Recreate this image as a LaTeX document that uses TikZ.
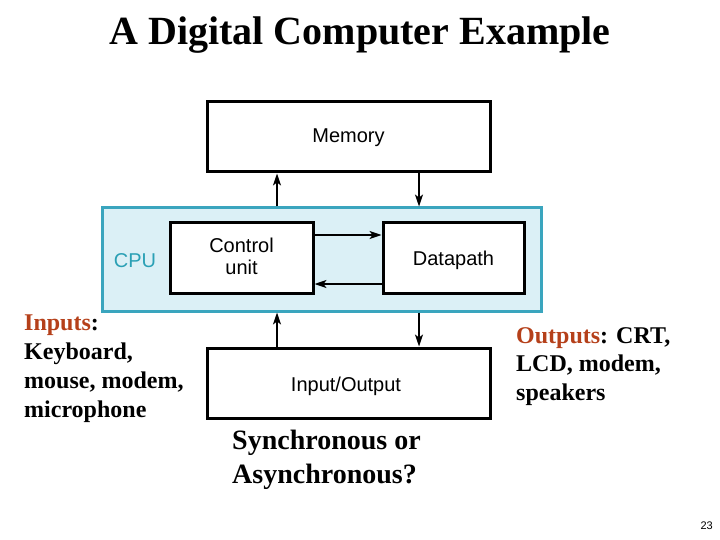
\documentclass[tikz,border=0pt]{standalone}
\usepackage{fontspec}
\setmainfont{Liberation Serif}
\setsansfont{Liberation Sans}
\usetikzlibrary{arrows.meta}
\definecolor{cpufill}{HTML}{DBF0F6}
\definecolor{cpuline}{HTML}{3AA5BE}
\definecolor{cputext}{HTML}{2AA0B5}
\definecolor{hl}{HTML}{B5401A}
\tikzset{
  blk/.style={draw=black, line width=3pt, fill=white},
  lbl/.style={font=\sffamily\fontsize{20}{22}\selectfont, anchor=base, inner sep=0pt},
  txt/.style={font=\bfseries\fontsize{24}{29}\selectfont, anchor=base west, inner sep=0pt},
  conn/.style={line width=1.3pt, -{Stealth[length=12pt,width=8pt,inset=3pt]}}
}
\begin{document}
\begin{tikzpicture}[x=1pt,y=-1pt]
\useasboundingbox (0,0) rectangle (720,540);
% title
\node[font=\bfseries\fontsize{40}{48}\selectfont, anchor=base, inner sep=0pt] (title) at (360,45) {A Digital Computer Example};
% CPU box
\draw[draw=cpuline, fill=cpufill, line width=3pt] (102.5,208) rectangle (541,311);
\coordinate (cputop1) at (277,206.5);
\coordinate (cputop2) at (419,206.5);
\coordinate (cpubot1) at (277,312.5);
\coordinate (cpubot2) at (419,312.5);
\node[lbl, text=cputext] (cpu) at (135,267) {CPU};
% memory
\draw[blk] (207,102) rectangle (490,172);
\coordinate (memb1) at (277,173.5);
\coordinate (memb2) at (419,173.5);
\node[lbl] (mem) at (348.5,143) {Memory};
% control unit
\draw[blk] (170,223) rectangle (313,293);
\node[lbl] (ctl1) at (241.5,252) {Control};
\node[lbl] (ctl2) at (241.5,274) {unit};
% datapath
\draw[blk] (383,223) rectangle (524,293);
\node[lbl] (dp) at (453.5,265) {Datapath};
% I/O
\draw[blk] (207,348) rectangle (490,418);
\coordinate (iot1) at (277,346.5);
\coordinate (iot2) at (419,346.5);
\node[lbl] (io) at (346,391) {Input/Output};
% connectors
\coordinate (c1) at (314.5,235);
\coordinate (d1) at (381.5,235);
\coordinate (c2) at (314.5,284);
\coordinate (d2) at (381.5,284);
\draw[conn] (cputop1) -- (memb1);
\draw[conn] (memb2) -- (cputop2);
\draw[conn] (c1) -- (d1);
\draw[conn] (d2) -- (c2);
\draw[conn] (iot1) -- (cpubot1);
\draw[conn] (cpubot2) -- (iot2);
% side texts
\node[txt] (in1) at (24,330) {\textcolor{hl}{Inputs}:};
\node[txt] (in2) at (24,359) {Keyboard,};
\node[txt] (in3) at (24,388) {mouse, modem,};
\node[txt] (in4) at (24,417) {microphone};
\node[txt] (out1) at (516,343) {\textcolor{hl}{Outputs}: CRT,};
\node[txt] (out2) at (516,371.5) {LCD, modem,};
\node[txt] (out3) at (516,400) {speakers};
\node[txt, font=\bfseries\fontsize{28}{34}\selectfont] (sy1) at (232,449) {Synchronous or};
\node[txt, font=\bfseries\fontsize{28}{34}\selectfont] (sy2) at (232,483) {Asynchronous?};
\node[font=\sffamily\fontsize{11}{13}\selectfont, anchor=base east, inner sep=0pt] (pg) at (713,529) {23};
\end{tikzpicture}
\end{document}
